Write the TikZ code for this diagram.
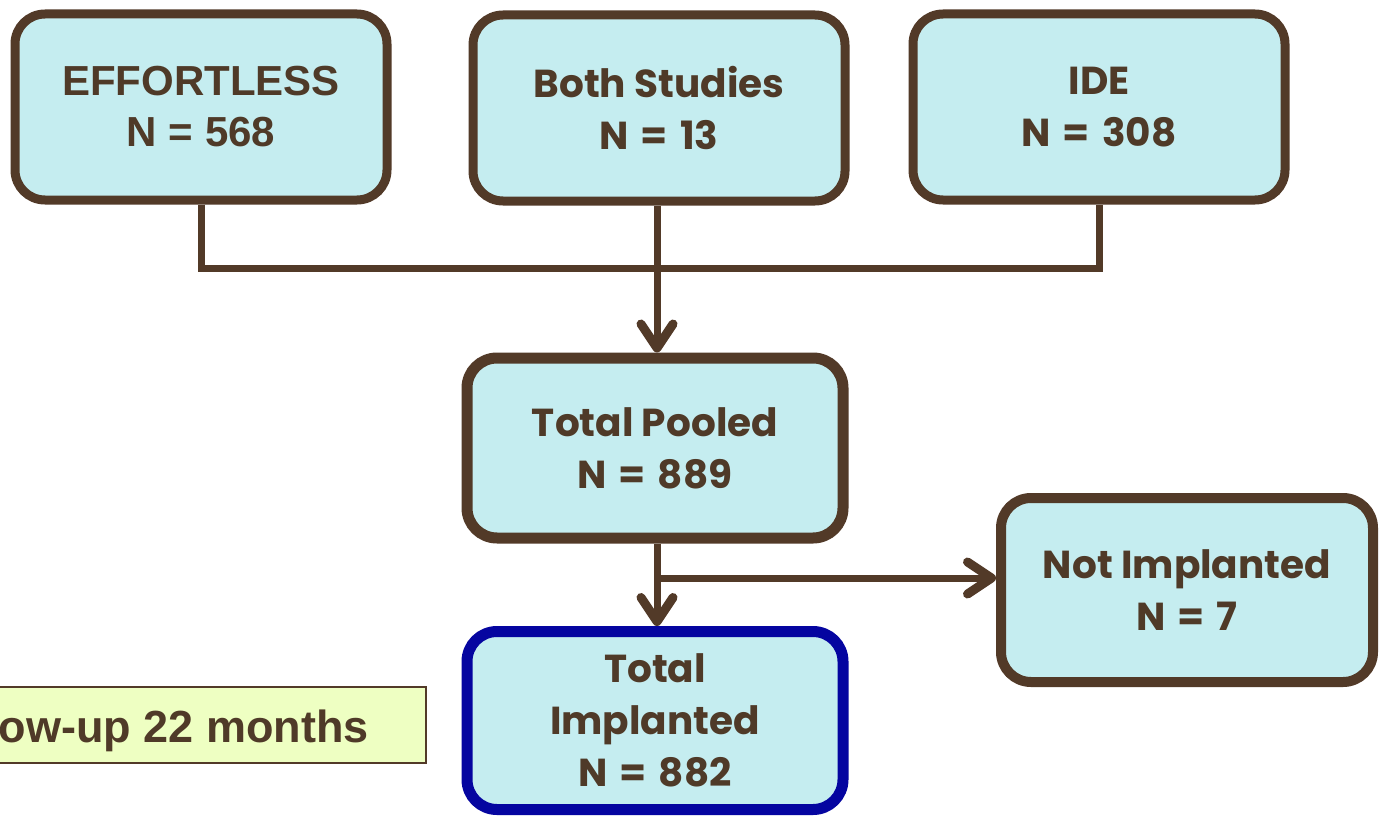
\documentclass[tikz,border=0pt]{standalone}
\usepackage{fontspec}
\setmainfont{Liberation Sans}
\newfontfamily\gothic{Poppins}
\usetikzlibrary{arrows.meta}
\definecolor{boxfill}{HTML}{C5EDF0}
\definecolor{brn}{HTML}{523A28}
\definecolor{txt}{HTML}{4F3A28}
\definecolor{blu}{HTML}{0505A0}
\definecolor{yfill}{HTML}{EEFFC2}
\newcommand{\eqsp}{\hspace{12pt}=\hspace{12pt}}
\tikzset{
  box/.style={draw=brn, fill=boxfill, line width=9pt, rounded corners=30pt,
    minimum width=372pt, minimum height=186pt, inner sep=0pt, align=center,
    text=txt, font=\gothic\bfseries\fontsize{39}{52}\selectfont},
  arialbox/.style={box, font=\bfseries\fontsize{42}{51}\selectfont},
  bigbox/.style={box, line width=11pt, minimum width=376pt, minimum height=180pt},
  conn/.style={draw=brn, line width=7pt},
  arr/.style={conn, -{Straight Barb[length=24pt,width=32pt,round,line width=9pt]}},
}
\begin{document}
\begin{tikzpicture}[x=1pt,y=-1pt]
\useasboundingbox[fill=white] (0,0) rectangle (1379,816);
\node[arialbox] (eff) at (201,107) {EFFORTLESS\\N = 568};
\node[box] (both) at (659,108) {Both Studies\\N\eqsp13};
\node[box] (ide) at (1099,107) {IDE\\N\eqsp308};
\node[bigbox] (pool) at (655,448) {Total Pooled\\N\eqsp889};
\node[bigbox, draw=blu, minimum height=178pt] (impl) at (655,720.5) {Total\\Implanted\\N\eqsp882};
\node[box, line width=10pt, minimum width=372pt, minimum height=184pt] (notimp) at (1187,590) {Not Implanted\\N\eqsp7};
\node[draw=brn, fill=yfill, line width=2pt, minimum width=445pt, minimum height=76pt, inner sep=0pt] (fu) at (203,724.5) {};
\node[anchor=base east, text=txt, inner sep=0pt, font=\bfseries\fontsize{45}{51}\selectfont] (futext) at (369,742) {ow-up 22 months};
\coordinate (j) at (657,268);
\coordinate (b) at (657,578);
\draw[conn] (eff.south) -- (eff.south |- j) -- (ide.south |- j) -- (ide.south);
\draw[arr] (both.south -| j) -- (pool.north -| j);
\draw[arr] (pool.south -| b) -- (impl.north -| b);
\draw[arr] (b) -- (notimp.west |- b);
\end{tikzpicture}
\end{document}
